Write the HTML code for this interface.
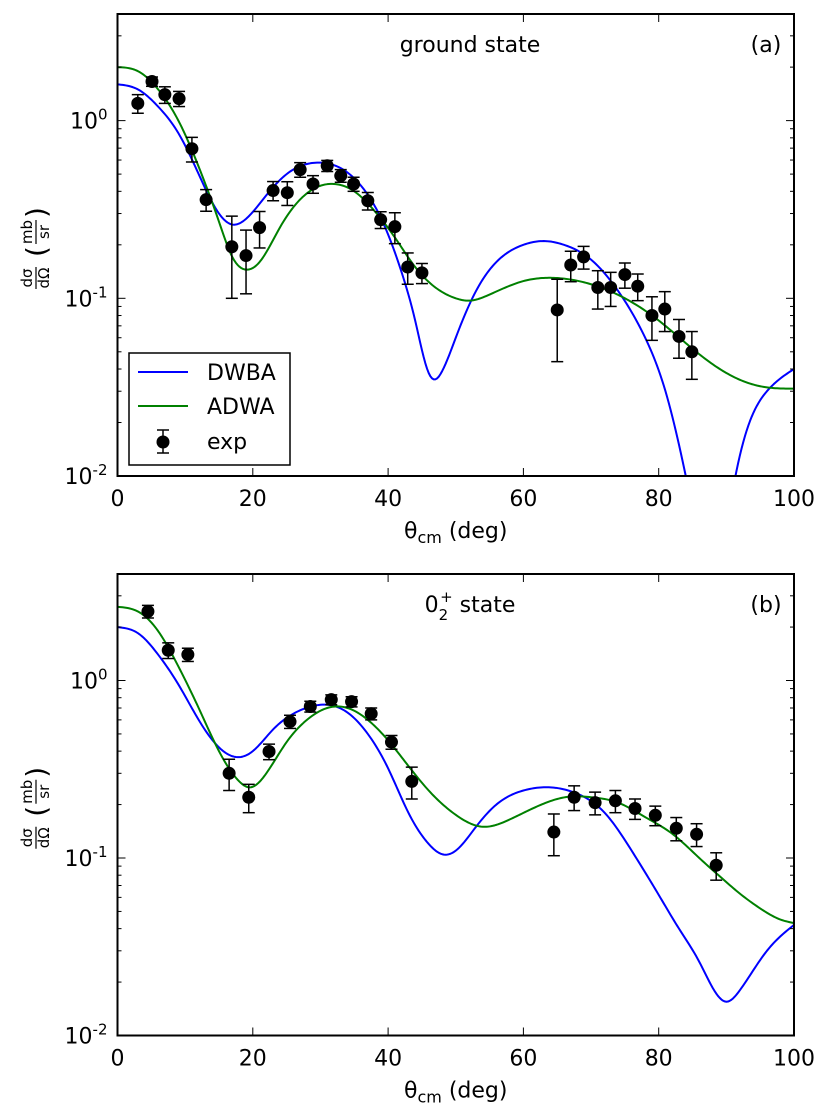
<!DOCTYPE html>
<html><head><meta charset="utf-8"><style>
html,body{margin:0;padding:0;background:#fff;}
svg{display:block;font-family:"DejaVu Sans","Liberation Sans",sans-serif;}
</style></head><body>
<svg id="fig" width="831" height="1117" viewBox="0 0 831 1117" xmlns="http://www.w3.org/2000/svg"></svg>
<script>
// ---- Panel (a): ground state ----
const aExpX = [3,5.1,7,9.1,11,13.1,16.9,19,21,23,25.1,27,28.9,31,33,34.9,37,38.9,41,42.9,45,65,67,68.9,71,72.9,75,76.9,79,80.9,83,84.9];
const aExpY = [1.25,1.66,1.4,1.33,0.695,0.359,0.195,0.174,0.25,0.404,0.393,0.53,0.44,0.557,0.49,0.44,0.354,0.277,0.253,0.15,0.139,0.086,0.154,0.171,0.115,0.115,0.136,0.117,0.08,0.087,0.061,0.05];
const aExpErr = [0.15,0.1,0.15,0.13,0.11,0.05,0.095,0.068,0.058,0.05,0.06,0.05,0.05,0.04,0.04,0.04,0.04,0.03,0.05,0.03,0.018,0.042,0.03,0.025,0.028,0.025,0.022,0.02,0.022,0.022,0.015,0.015];
const aDwbaX = [0,3,6,9,12,15,17,19,22,25,28,30,33,36,39,42,44,46,47,48,50,53,56,60,63,66,70,74,78,81,84,86,88,90,93,96,100];
const aDwbaY = [1.6,1.5,1.2,0.85,0.5,0.3,0.26,0.28,0.38,0.5,0.57,0.58,0.54,0.43,0.28,0.14,0.075,0.038,0.035,0.039,0.06,0.11,0.16,0.2,0.21,0.2,0.165,0.11,0.06,0.03,0.01,0.004,0.002,0.005,0.018,0.03,0.04];
const aAdwaX = [0,3,6,9,12,15,17,19,21,24,27,30,32,35,38,41,44,47,50,52,55,60,65,70,75,80,85,90,95,100];
const aAdwaY = [2.0,1.9,1.5,1.0,0.55,0.27,0.17,0.145,0.16,0.25,0.36,0.43,0.44,0.4,0.31,0.22,0.15,0.115,0.1,0.097,0.105,0.125,0.13,0.12,0.1,0.075,0.052,0.038,0.032,0.031];
// ---- Panel (b): 0_2^+ state ----
const bExpX = [4.5,7.5,10.4,16.5,19.4,22.4,25.5,28.5,31.6,34.6,37.5,40.5,43.5,64.5,67.5,70.6,73.6,76.5,79.5,82.6,85.6,88.5];
const bExpY = [2.45,1.48,1.4,0.3,0.22,0.398,0.587,0.714,0.78,0.76,0.65,0.45,0.27,0.14,0.22,0.205,0.21,0.19,0.174,0.147,0.136,0.091];
const bExpErr = [0.2,0.15,0.12,0.06,0.04,0.04,0.05,0.05,0.05,0.05,0.05,0.04,0.055,0.037,0.035,0.03,0.03,0.025,0.022,0.022,0.02,0.016];
const bDwbaX = [0,3,6,9,12,15,18,20,23,26,29,31,34,37,40,43,46,48,50,53,56,60,64,68,72,76,80,83,86,88,90,92,96,100];
const bDwbaY = [2.0,1.85,1.4,0.95,0.6,0.42,0.37,0.4,0.53,0.65,0.72,0.73,0.66,0.5,0.32,0.18,0.12,0.105,0.11,0.15,0.2,0.24,0.25,0.23,0.18,0.11,0.062,0.04,0.026,0.0185,0.0155,0.018,0.03,0.042];
const bAdwaX = [0,3,6,9,12,15,18,19.5,22,25,28,31,34,37,40,43,46,50,54,58,62,67,70,74,78,82,86,89,92,95,98,100];
const bAdwaY = [2.6,2.45,1.9,1.2,0.7,0.4,0.27,0.25,0.3,0.45,0.6,0.7,0.7,0.6,0.46,0.33,0.24,0.175,0.15,0.165,0.195,0.222,0.22,0.205,0.17,0.137,0.1,0.079,0.063,0.052,0.045,0.043];
const xTicks = [0,20,40,60,80,100];
const yDecades = [-2,-1,0];

const NS = "http://www.w3.org/2000/svg";
const svg = document.getElementById('fig');
function mk(tag, attrs, parent){const e=document.createElementNS(NS,tag);for(const k in attrs)e.setAttribute(k,attrs[k]);(parent||svg).appendChild(e);return e;}

function spline(xs, ys){
  const n=xs.length, h=[], a=new Array(n).fill(0), b=new Array(n).fill(0), c=new Array(n).fill(0), r=new Array(n).fill(0);
  for(let i=0;i<n-1;i++) h.push(xs[i+1]-xs[i]);
  b[0]=1; b[n-1]=1;
  for(let i=1;i<n-1;i++){a[i]=h[i-1]; b[i]=2*(h[i-1]+h[i]); c[i]=h[i]; r[i]=3*((ys[i+1]-ys[i])/h[i]-(ys[i]-ys[i-1])/h[i-1]);}
  for(let i=1;i<n;i++){const w=a[i]/b[i-1]; b[i]-=w*c[i-1]; r[i]-=w*r[i-1];}
  const M=new Array(n); M[n-1]=r[n-1]/b[n-1];
  for(let i=n-2;i>=0;i--) M[i]=(r[i]-c[i]*M[i+1])/b[i];
  return function(x){
    let i=0; while(i<n-2 && x>xs[i+1]) i++;
    const t=x-xs[i], hi=h[i];
    const bb=(ys[i+1]-ys[i])/hi - hi*(2*M[i]+M[i+1])/3;
    const dd=(M[i+1]-M[i])/(3*hi);
    return ys[i]+bb*t+M[i]*t*t+dd*t*t*t;
  };
}

function panel(top, bottom, id, expX, expY, expErr, dX, dY, aX, aY, title, letter, legend){
  const L=117.5, R=794, yMinLog=-2, yMaxLog=0.6;
  const sx = v => L + (v/100)*(R-L);
  const syl = lg => bottom - (lg-yMinLog)/(yMaxLog-yMinLog)*(bottom-top);
  const sy = v => syl(Math.log10(v));
  const g = mk('g',{});
  
  
  const clip = mk('clipPath',{id:'clip'+id},g);
  mk('rect',{x:L,y:top,width:R-L,height:bottom-top},clip);
  function curve(xs, ys, color, name){
    const f = spline(xs, ys.map(v=>Math.log10(v)));
    let d='';
    for(let x=xs[0]; x<=xs[xs.length-1]+1e-9; x+=0.25){
      d += (d?' L':'M') + sx(x).toFixed(2)+','+syl(f(x)).toFixed(2);
    }
    const p = mk('path',{d:d,fill:'none',stroke:color,'stroke-width':2,'stroke-linejoin':'round','clip-path':'url(#clip'+id+')'},g);
    
    
  }
  curve(dX,dY,'#0000ff','dwba-curve');
  curve(aX,aY,'#008000','adwa-curve');
  expX.forEach((x,i)=>{
    const cx=sx(x), cy=sy(expY[i]);
    const yt=sy(expY[i]+expErr[i]), yb=sy(Math.max(expY[i]-expErr[i],0.0101));
    const pg = mk('g',{},g);
    
    
    mk('line',{x1:cx,y1:yt,x2:cx,y2:yb,stroke:'#000','stroke-width':1.5},pg);
    mk('line',{x1:cx-6,y1:yt,x2:cx+6,y2:yt,stroke:'#000','stroke-width':1.5},pg);
    mk('line',{x1:cx-6,y1:yb,x2:cx+6,y2:yb,stroke:'#000','stroke-width':1.5},pg);
    mk('circle',{cx:cx,cy:cy,r:6.5,fill:'#000'},pg);
  });
  const fr = mk('rect',{x:L,y:top,width:R-L,height:bottom-top,fill:'none',stroke:'#000','stroke-width':2},g);
  
  
  xTicks.forEach(t=>{
    const x=sx(t);
    mk('line',{x1:x,y1:bottom,x2:x,y2:bottom-8,stroke:'#000','stroke-width':1},g);
    mk('line',{x1:x,y1:top,x2:x,y2:top+8,stroke:'#000','stroke-width':1},g);
    const tx = mk('text',{x:x,y:bottom+30,'font-size':22,'text-anchor':'middle'},g);
    tx.textContent=t;
    
    
  });
  yDecades.forEach(dcd=>{
    const y=sy(Math.pow(10,dcd));
    mk('line',{x1:L,y1:y,x2:L+8,y2:y,stroke:'#000','stroke-width':1},g);
    mk('line',{x1:R,y1:y,x2:R-8,y2:y,stroke:'#000','stroke-width':1},g);
    const tx = mk('text',{x:L-10,y:y+8,'font-size':22,'text-anchor':'end'},g);
    
    
    tx.innerHTML='10<tspan dy="-9" font-size="15">'+dcd+'</tspan>';
    for(let m=2;m<=9;m++){
      const lv=Math.log10(m)+dcd;
      if(lv>yMaxLog) break;
      const ym=syl(lv);
      mk('line',{x1:L,y1:ym,x2:L+4,y2:ym,stroke:'#000','stroke-width':1},g);
      mk('line',{x1:R,y1:ym,x2:R-4,y2:ym,stroke:'#000','stroke-width':1},g);
    }
  });
  const xl = mk('text',{x:(L+R)/2,y:bottom+62,'font-size':22,'text-anchor':'middle'},g);
  
  
  xl.innerHTML='θ<tspan dy="5" font-size="16">cm</tspan><tspan dy="-5"> (deg)</tspan>';
  const cy=(top+bottom)/2;
  const yl = mk('g',{transform:'translate(36,'+cy+') rotate(-90)'},g);
  
  
  mk('text',{x:-33,y:-4,'font-size':15,'text-anchor':'middle'},yl).textContent='dσ';
  mk('line',{x1:-44,y1:0,x2:-22,y2:0,stroke:'#000','stroke-width':1.2},yl);
  mk('text',{x:-33,y:13,'font-size':15,'text-anchor':'middle'},yl).textContent='dΩ';
  mk('text',{x:-12,y:10,'font-size':28},yl).textContent='(';
  mk('text',{x:13,y:-4,'font-size':15,'text-anchor':'middle'},yl).textContent='mb';
  mk('line',{x1:1,y1:0,x2:25,y2:0,stroke:'#000','stroke-width':1.2},yl);
  mk('text',{x:13,y:13,'font-size':15,'text-anchor':'middle'},yl).textContent='sr';
  mk('text',{x:27,y:10,'font-size':28},yl).textContent=')';
  const tt = mk('text',{x:470,y:top+38,'font-size':22,'text-anchor':'middle'},g);
  
  
  tt.innerHTML=title;
  const lt = mk('text',{x:766,y:top+38,'font-size':22,'text-anchor':'middle'},g);
  
  
  lt.textContent=letter;
  if(legend){
    const lg = mk('g',{},g);
    
    
    mk('rect',{x:129,y:353,width:161,height:112,fill:'#fff',stroke:'#000','stroke-width':1.5},lg);
    const e1=mk('g',{},lg);  
    mk('line',{x1:138,y1:372,x2:188,y2:372,stroke:'#0000ff','stroke-width':2},e1);
    mk('text',{x:207,y:380,'font-size':22},e1).textContent='DWBA';
    const e2=mk('g',{},lg);  
    mk('line',{x1:138,y1:406,x2:188,y2:406,stroke:'#008000','stroke-width':2},e2);
    mk('text',{x:207,y:414,'font-size':22},e2).textContent='ADWA';
    const e3=mk('g',{},lg);  
    mk('line',{x1:163,y1:430,x2:163,y2:453,stroke:'#000','stroke-width':1.5},e3);
    mk('line',{x1:157,y1:430,x2:169,y2:430,stroke:'#000','stroke-width':1.5},e3);
    mk('line',{x1:157,y1:453,x2:169,y2:453,stroke:'#000','stroke-width':1.5},e3);
    mk('circle',{cx:163,cy:442,r:6.5,fill:'#000'},e3);
    mk('text',{x:207,y:449,'font-size':22},e3).textContent='exp';
  }
}
panel(14,476,'a',aExpX,aExpY,aExpErr,aDwbaX,aDwbaY,aAdwaX,aAdwaY,'ground state','(a)',true);
panel(574,1035.5,'b',bExpX,bExpY,bExpErr,bDwbaX,bDwbaY,bAdwaX,bAdwaY,'0<tspan dy="8" font-size="15">2</tspan><tspan dy="-18" dx="-8" font-size="15">+</tspan><tspan dy="10"> state</tspan>','(b)',false);
</script>
</body></html>
